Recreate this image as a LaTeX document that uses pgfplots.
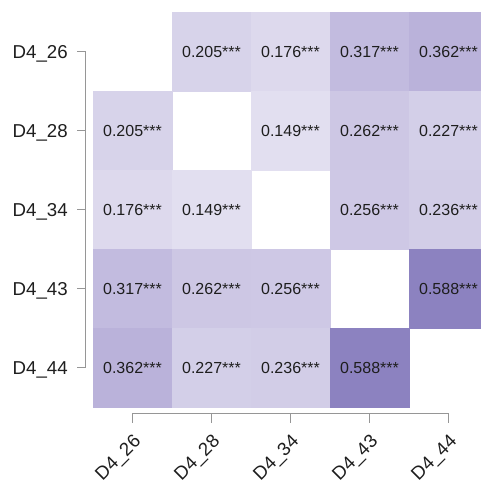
\documentclass[border=0pt]{standalone}
\usepackage{fontspec}
\setmainfont{Liberation Sans}
\usepackage{pgfplots}
\usepackage{pgfplotstable}
\pgfplotsset{compat=1.18}
\definecolor{axgray}{RGB}{150,150,150}
\definecolor{txt}{RGB}{30,30,30}
\pgfplotsset{colormap={pur}{rgb255(0cm)=(226,223,240); rgb255(2.13cm)=(186,178,218); rgb255(4.39cm)=(140,130,192)}}
\pgfplotstableread{
x y v
1 4 0.205
2 4 0.176
3 4 0.317
4 4 0.362
0 3 0.205
2 3 0.149
3 3 0.262
4 3 0.227
0 2 0.176
1 2 0.149
3 2 0.256
4 2 0.236
0 1 0.317
1 1 0.262
2 1 0.256
4 1 0.588
0 0 0.362
1 0 0.227
2 0 0.236
3 0 0.588
}\cells
\begin{document}
\begin{tikzpicture}
\begin{axis}[
  scale only axis,
  width=296.25pt, height=296.25pt,
  xmin=-0.5, xmax=4.5, ymin=-0.5, ymax=4.5,
  clip=false,
  axis line style={draw=none},
  major tick length=0pt,
  tick style={draw=none},
  xtick={0,1,2,3,4},
  xticklabels={D4\_26,D4\_28,D4\_34,D4\_43,D4\_44},
  ytick={0,1,2,3,4},
  yticklabels={D4\_44,D4\_43,D4\_34,D4\_28,D4\_26},
  xticklabel style={font=\fontsize{14}{17}\selectfont, text=txt, inner sep=0pt, anchor=base east, xshift=7pt, yshift=-26.5pt, rotate=45},
  yticklabel style={font=\fontsize{14}{17}\selectfont, text=txt, inner sep=0pt, anchor=base east, xshift=-18.75pt, yshift=-5.1pt},
  colormap name=pur,
  point meta min=0.149, point meta max=0.588,
  /pgf/number format/assume math mode=true,
]
\addplot[scatter, only marks, mark=square*, mark size=29.625pt,
  scatter/use mapped color={draw=mapped color, fill=mapped color},
  mark options={line width=0.2pt}, point meta=explicit]
  table[x=x, y=y, meta=v] {\cells};
\addplot[only marks, mark=none, draw=none, point meta=explicit,
  nodes near coords={\pgfmathprintnumber[fixed,fixed zerofill,precision=3]{\pgfplotspointmeta}***},
  every node near coord/.append style={anchor=center, text=txt, font=\fontsize{12}{14}\selectfont}]
  table[x=x, y=y, meta=v] {\cells};
% R-style offset axes
\draw[axgray, line width=0.75pt] (axis cs:-0.5886,0) -- (axis cs:-0.5886,4);
\pgfplotsinvokeforeach{0,1,2,3,4}{
  \draw[axgray, line width=0.75pt] (axis cs:-0.5886,#1) -- (axis cs:-0.7025,#1);
  \draw[axgray, line width=0.75pt] (axis cs:#1,-0.580) -- (axis cs:#1,-0.703);
}
\draw[axgray, line width=0.75pt] (axis cs:0,-0.580) -- (axis cs:4,-0.580);
\coordinate (bbsw) at (axis cs:-1.677,-1.424);
\coordinate (bbne) at (axis cs:4.399,4.652);
\end{axis}
\pgfresetboundingbox
\path[use as bounding box] (bbsw) rectangle (bbne);
\end{tikzpicture}
\end{document}
